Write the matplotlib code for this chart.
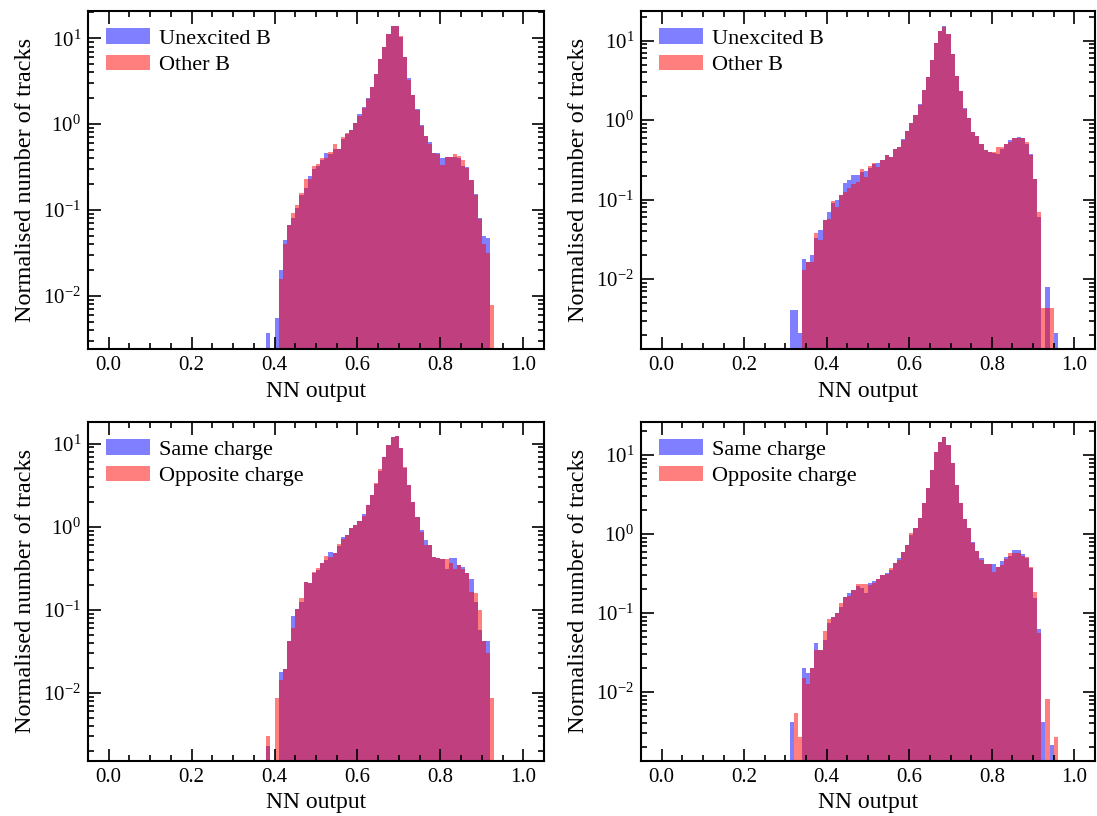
import numpy as np
import matplotlib
matplotlib.use("Agg")
import matplotlib.pyplot as plt
from matplotlib.ticker import MultipleLocator, LogLocator, NullFormatter

plt.rcParams['font.family'] = ['Liberation Serif', 'DejaVu Serif']
plt.rcParams['mathtext.fontset'] = 'stix'

bin_edges = np.linspace(0.0, 1.0, 101)

# ---- top-left: Unexcited B vs Other B (bins start at index 38) ----
tl_start = 38
tl_unexcited = [0.0037, 0, 0.0055, 0.020, 0.045, 0.067, 0.080, 0.105, 0.150, 0.180, 0.251, 0.300,
                0.330, 0.380, 0.460, 0.450, 0.520, 0.516, 0.680, 0.760, 0.860, 1.04, 1.31, 1.58,
                2.04, 2.74, 3.85, 5.7, 8.0, 11.2, 14.0, 14.0, 10.3, 6.1, 3.4, 2.19, 1.49, 0.98,
                0.73, 0.62, 0.46, 0.46, 0.40, 0.41, 0.41, 0.42, 0.40, 0.33, 0.32, 0.225, 0.155,
                0.081, 0.050, 0.047, 0]
tl_other = [0, 0, 0, 0.016, 0.040, 0.067, 0.092, 0.115, 0.158, 0.229, 0.229, 0.330,
            0.340, 0.400, 0.400, 0.469, 0.585, 0.516, 0.705, 0.785, 0.860, 1.02, 1.25, 1.55,
            1.95, 2.74, 3.85, 5.8, 8.0, 11.2, 14.0, 14.0, 10.6, 6.0, 3.3, 2.19, 1.45, 0.95,
            0.73, 0.58, 0.46, 0.45, 0.337, 0.41, 0.41, 0.452, 0.43, 0.385, 0.31, 0.225, 0.15,
            0.078, 0.040, 0.0316, 0.0079]

# ---- top-right: Unexcited B vs Other B (bins start at index 31) ----
tr_start = 31
tr_unexcited = [0.0041, 0.0041, 0.0021, 0.0177, 0.0166, 0.020, 0.033, 0.0413, 0.0552, 0.0695,
                0.090, 0.100, 0.1136, 0.162, 0.179, 0.202, 0.206, 0.225, 0.227, 0.25, 0.28,
                0.292, 0.312, 0.36, 0.343, 0.429, 0.459, 0.584, 0.73, 0.93, 1.15, 1.60, 2.36,
                3.53, 5.7, 9.35, 13.3, 15.1, 12.1, 6.8, 3.64, 2.31, 1.43, 1.07, 0.71, 0.64,
                0.50, 0.42, 0.40, 0.39, 0.37, 0.43, 0.50, 0.556, 0.595, 0.61, 0.595, 0.50, 0.378,
                0.18, 0.061, 0, 0.008, 0, 0.0021]
tr_other = [0, 0, 0, 0.013, 0.0166, 0.0166, 0.0375, 0.031, 0.0552, 0.0578,
            0.0955, 0.081, 0.1136, 0.125, 0.138, 0.159, 0.167, 0.24, 0.193, 0.262, 0.292,
            0.258, 0.312, 0.36, 0.343, 0.429, 0.459, 0.56, 0.73, 0.93, 1.15, 1.55, 2.36,
            3.53, 5.7, 9.35, 13.3, 15.0, 12.1, 6.8, 3.64, 2.31, 1.40, 1.07, 0.71, 0.64,
            0.50, 0.42, 0.40, 0.40, 0.46, 0.46, 0.50, 0.53, 0.595, 0.59, 0.595, 0.53, 0.36,
            0.184, 0.070, 0.0043, 0.0043, 0.0043, 0]

# ---- bottom-left: Same charge vs Opposite charge (bins start at index 38) ----
bl_start = 38
bl_same = [0.0023, 0, 0, 0.0179, 0.0196, 0.042, 0.0847, 0.102, 0.123, 0.218, 0.212, 0.274,
           0.30, 0.362, 0.397, 0.50, 0.477, 0.58, 0.76, 0.794, 0.955, 1.06, 1.17, 1.41, 1.82,
           2.41, 3.25, 4.7, 7.0, 9.6, 12.2, 12.4, 8.8, 5.1, 3.18, 2.0, 1.32, 0.91, 0.69,
           0.60, 0.435, 0.416, 0.405, 0.31, 0.416, 0.416, 0.346, 0.33, 0.274, 0.232,
           0.123, 0.0569, 0.042, 0.042, 0]
bl_opposite = [0.003, 0, 0.0086, 0.0142, 0.0196, 0.042, 0.0596, 0.102, 0.137, 0.218, 0.212, 0.287,
               0.315, 0.362, 0.443, 0.435, 0.477, 0.62, 0.72, 0.794, 0.955, 1.06, 1.17, 1.35, 1.82,
               2.41, 3.33, 4.9, 7.0, 9.6, 12.2, 12.4, 8.8, 5.3, 3.18, 2.0, 1.32, 0.87, 0.60,
               0.60, 0.435, 0.42, 0.405, 0.405, 0.362, 0.31, 0.346, 0.31, 0.274, 0.165,
               0.16, 0.099, 0.042, 0.03, 0.0086]

# ---- bottom-right: Same charge vs Opposite charge (bins start at index 31) ----
br_start = 31
br_same = [0.0042, 0, 0, 0.020, 0.0172, 0.020, 0.042, 0.034, 0.0455, 0.075, 0.090, 0.099,
           0.12, 0.161, 0.181, 0.195, 0.22, 0.21, 0.181, 0.242, 0.254, 0.267, 0.303, 0.324, 0.35,
           0.425, 0.492, 0.592, 0.726, 0.98, 1.18, 1.58, 2.44, 3.78, 6.46, 10.8, 14.8, 17.1,
           13.4, 7.85, 4.17, 2.44, 1.55, 1.18, 0.80, 0.615, 0.492, 0.417, 0.417, 0.417,
           0.386, 0.46, 0.517, 0.532, 0.627, 0.627, 0.553, 0.50, 0.367, 0.153, 0.062,
           0.0042, 0, 0.00214, 0]
br_opposite = [0, 0.0054, 0.00267, 0.0149, 0.0125, 0.020, 0.034, 0.034, 0.0597, 0.083, 0.090,
               0.099, 0.135, 0.161, 0.165, 0.195, 0.233, 0.23, 0.231, 0.225, 0.24, 0.267, 0.303,
               0.31, 0.367, 0.425, 0.47, 0.592, 0.726, 1.02, 1.18, 1.58, 2.44, 3.78, 6.46,
               10.8, 14.8, 17.1, 13.4, 7.85, 4.17, 2.44, 1.55, 1.18, 0.78, 0.615, 0.469,
               0.417, 0.417, 0.333, 0.386, 0.40, 0.48, 0.569, 0.58, 0.569, 0.53, 0.517, 0.386,
               0.186, 0.0553, 0, 0.0081, 0, 0.00267]

top_labels = ['Unexcited B', 'Other B']
bottom_labels = ['Same charge', 'Opposite charge']

tl_ylim = (0.00242, 20.9)
tr_ylim = (0.00132, 23.8)
bl_ylim = (0.00152, 18.4)
br_ylim = (0.00135, 26.4)


def full_hist(start, vals):
    arr = np.zeros(100)
    arr[start:start + len(vals)] = vals
    return arr


W, H = 1097, 816
fig = plt.figure(figsize=(W / 100, H / 100), dpi=100)

panels = [
    ((88, 10.7, 544, 349), tl_start, tl_unexcited, tl_other, top_labels, tl_ylim),
    ((641, 10.7, 1095, 349), tr_start, tr_unexcited, tr_other, top_labels, tr_ylim),
    ((88, 421.7, 544, 760.7), bl_start, bl_same, bl_opposite, bottom_labels, bl_ylim),
    ((641, 421.7, 1095, 760.7), br_start, br_same, br_opposite, bottom_labels, br_ylim),
]

centers = 0.5 * (bin_edges[:-1] + bin_edges[1:])

for (x0, y0, x1, y1), start, s1, s2, labels, ylim in panels:
    ax = fig.add_axes([x0 / W, 1 - y1 / H, (x1 - x0) / W, (y1 - y0) / H])
    ax.hist(centers, bins=bin_edges, weights=full_hist(start, s1), color='blue', alpha=0.5,
            label=labels[0])
    ax.hist(centers, bins=bin_edges, weights=full_hist(start, s2), color='red', alpha=0.5,
            label=labels[1])
    ax.set_yscale('log')
    ax.set_xlim(-0.05, 1.05)
    ax.set_ylim(*ylim)
    ax.xaxis.set_major_locator(MultipleLocator(0.2))
    ax.xaxis.set_minor_locator(MultipleLocator(0.05))
    ax.yaxis.set_major_locator(LogLocator(base=10, numticks=10))
    ax.yaxis.set_minor_locator(LogLocator(base=10, subs=np.arange(2, 10), numticks=20))
    ax.yaxis.set_minor_formatter(NullFormatter())
    ax.tick_params(which='both', direction='in', top=True, right=True, labelsize=15, width=1.2)
    ax.tick_params(which='major', length=9, pad=5)
    ax.tick_params(which='minor', length=4.5)
    for sp in ax.spines.values():
        sp.set_linewidth(1.5)
    ax.set_xlabel('NN output', fontsize=17, labelpad=4)
    ax.set_ylabel('Normalised number of tracks', fontsize=17.5, labelpad=5)
    ax.legend(loc='upper left', frameon=False, fontsize=16, handlelength=2.0,
              handletextpad=0.4, labelspacing=0.25, borderaxespad=0.4)

fig.savefig('out.png', dpi=100)
